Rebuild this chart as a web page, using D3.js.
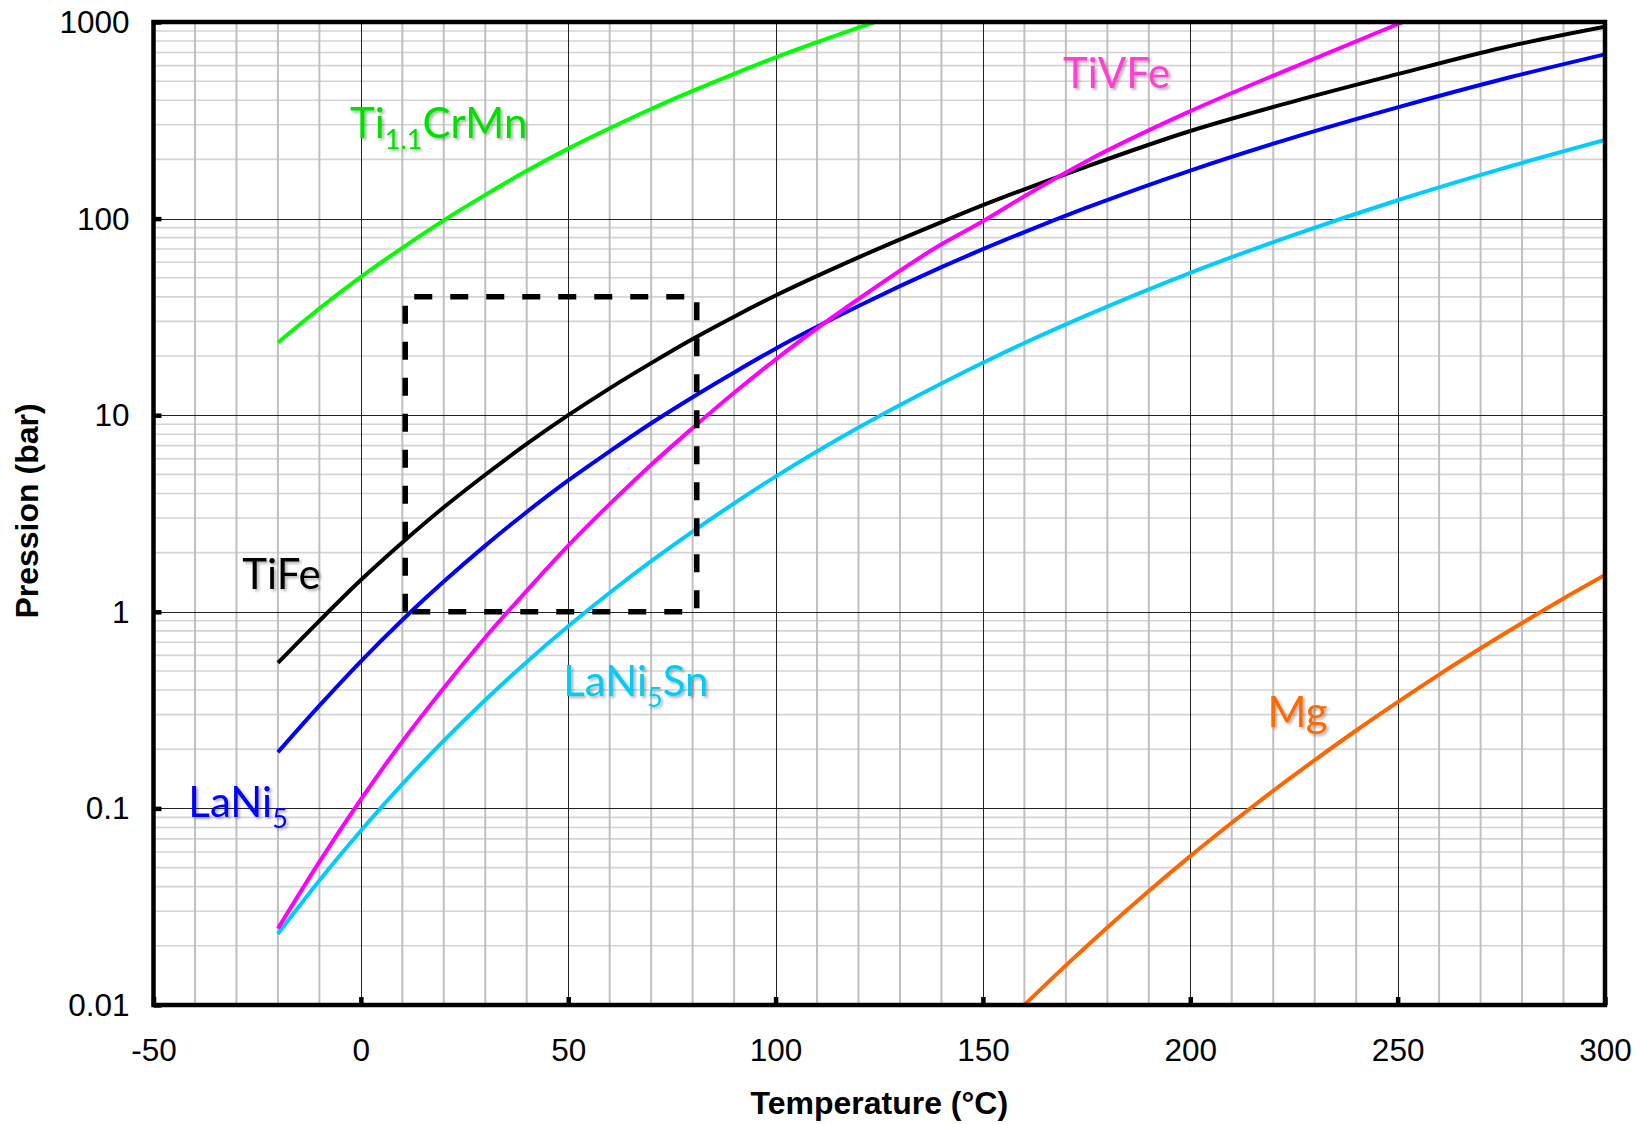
<!DOCTYPE html>
<html><head><meta charset="utf-8">
<script src="https://cdn.jsdelivr.net/npm/d3@7"></script>
<style>
body{margin:0;background:#fff}
svg{display:block}
</style></head><body>
<svg id="c" width="1641" height="1124"></svg>
<script>
// ---------- data ----------
const tempsMain = [-20,-10,0,10,20,30,40,50,60,70,80,90,100,120,140,150,160,175,200,225,250,275,300];
const tiFeP     = [0.55,0.90,1.45,2.25,3.4,4.98,7.14,10,13.7,18.4,24.4,31.7,40.6,63.5,96,117,141,184,279,395,543,738,946];
const laNi5P    = [0.193,0.333,0.56,0.909,1.425,2.17,3.22,4.66,6.55,9.1,12.35,16.5,21.8,35.9,56.6,69.9,85.4,113.6,175.6,259,368,510,685];
const laNi5SnP  = [0.023,0.043,0.077,0.133,0.221,0.356,0.556,0.844,1.25,1.81,2.56,3.56,4.87,8.65,14.5,18.5,23.3,32.2,53,82.7,124,179,251];
const tempsTiVFe = [-20,-10,0,10,20,30,40,50,60,70,80,90,100,120,140,150,160,175,200,225,250,260];
const tiVFeP     = [0.0245,0.0535,0.111,0.219,0.41,0.74,1.28,2.17,3.53,5.6,8.6,13.0,19.2,39,74,97,130,196,352,590,975,1190];
const tempsTiCrMn = [-20,-10,0,10,20,30,40,50,60,70,80,90,100,110,120,125,130];
const tiCrMnP     = [23.4,34.9,50.5,71,98,132,175,227,288,361,446,545,660,789,937,1016,1101];
const tempsMg = [160,170,180,190,200,210,220,230,240,250,260,270,280,290,300];
const mgP     = [0.01,0.0159,0.0248,0.038,0.0572,0.0845,0.123,0.176,0.249,0.347,0.479,0.652,0.877,1.17,1.54];

const boxT = [10.7,10.7,81,81,10.7];
const boxP = [1,40,40,1,1];

const xTicks = [-50,0,50,100,150,200,250,300];
const xTickLabels = ["-50","0","50","100","150","200","250","300"];
const yTicks = [0.01,0.1,1,10,100,1000];
const yTickLabels = ["0.01","0.1","1","10","100","1000"];

const series = [
  {name:"TiFe",      t:tempsMain,   p:tiFeP,     color:"#000000"},
  {name:"LaNi5",     t:tempsMain,   p:laNi5P,    color:"#0000ff"},
  {name:"LaNi5Sn",   t:tempsMain,   p:laNi5SnP,  color:"#00ccff"},
  {name:"TiVFe",     t:tempsTiVFe,  p:tiVFeP,    color:"#ff00ff"},
  {name:"Ti1.1CrMn", t:tempsTiCrMn, p:tiCrMnP,   color:"#00ff00"},
  {name:"Mg",        t:tempsMg,     p:mgP,       color:"#ff6600"}
];

// label anchors in data units (temperature, pressure) with sub/normal parts
const labels = [
  {parts:[["TiFe",0]],                    t:-28.6, p:1.31,  color:"#000000"},
  {parts:[["LaNi",0],["5",1]],            t:-41.6, p:0.090, color:"#0000ff"},
  {parts:[["Ti",0],["1.1",1],["CrMn",0]], t:-2.6,  p:256,   color:"#00e000"},
  {parts:[["TiVFe",0]],                   t:169.3, p:459,   color:"#ff3fd0"},
  {parts:[["LaNi",0],["5",1],["Sn",0]],   t:48.8,  p:0.374, color:"#00ccf5"},
  {parts:[["Mg",0]],                      t:218.6, p:0.258, color:"#ff6a00"}
];

// ---------- chart ----------
const L=153.5, R=1605, T=22, B=1005;
const svg = d3.select("#c");
const x = d3.scaleLinear().domain([-50,300]).range([L,R]);
const y = d3.scaleLog().domain([0.01,1000]).range([B,T]);

const defs = svg.append("defs");
defs.append("clipPath").attr("id","plot").append("rect")
  .attr("x",L).attr("y",T).attr("width",R-L).attr("height",B-T);
const f = defs.append("filter").attr("id","sh").attr("x","-10%").attr("y","-20%").attr("width","130%").attr("height","150%");
f.append("feDropShadow").attr("dx",2).attr("dy",2).attr("stdDeviation",1.6)
  .attr("flood-color","#000").attr("flood-opacity",0.32);

// grid
const g = svg.append("g");
const minorX = d3.range(-40,300,10).filter(v=>v%50!==0);
const majorX = [0,50,100,150,200,250];
const minorY = [];
[0.01,0.1,1,10,100].forEach(d=>{for(let k=2;k<=9;k++) minorY.push(d*k);});
const majorY = [0.1,1,10,100];

g.selectAll(".my").data(minorY).enter().append("line")
  .attr("x1",L).attr("x2",R).attr("y1",d=>y(d)).attr("y2",d=>y(d))
  .attr("stroke","#d4d4d4").attr("stroke-width",1.6);
g.selectAll(".mx").data(minorX).enter().append("line")
  .attr("y1",T).attr("y2",B).attr("x1",d=>x(d)).attr("x2",d=>x(d))
  .attr("stroke","#c0c0c0").attr("stroke-width",2);
g.selectAll(".My").data(majorY).enter().append("line")
  .attr("x1",L).attr("x2",R).attr("y1",d=>Math.round(y(d))+0.5).attr("y2",d=>Math.round(y(d))+0.5)
  .attr("stroke","#222").attr("stroke-width",1);
g.selectAll(".Mx").data(majorX).enter().append("line")
  .attr("y1",T).attr("y2",B).attr("x1",d=>Math.round(x(d))+0.5).attr("x2",d=>Math.round(x(d))+0.5)
  .attr("stroke","#222").attr("stroke-width",1);

// curves
const line = d3.line().x(d=>x(d[0])).y(d=>y(d[1])).curve(d3.curveMonotoneX);
const cg = svg.append("g").attr("clip-path","url(#plot)");
series.forEach(s=>{
  const pts = s.t.map((t,i)=>[t,s.p[i]]);
  cg.append("path").attr("d",line(pts)).attr("fill","none")
    .attr("stroke",s.color).attr("stroke-width",4).attr("stroke-linejoin","round");
});

// dashed box
const boxPts = boxT.map((t,i)=>[t,boxP[i]]);
svg.append("path").attr("d",d3.line().x(d=>x(d[0])).y(d=>y(d[1]))(boxPts))
  .attr("fill","none").attr("stroke","#000").attr("stroke-width",5.5)
  .attr("stroke-dasharray","18 18");

// axes
const yAxis = d3.axisLeft(y).tickValues(yTicks)
  .tickFormat((d,i)=>yTickLabels[i]).tickSizeInner(-8).tickSizeOuter(0).tickPadding(24);
const ya = svg.append("g").attr("transform",`translate(${L},0)`).call(yAxis);
const xAxis = d3.axisBottom(x).tickValues(xTicks)
  .tickFormat((d,i)=>xTickLabels[i]).tickSizeInner(-8).tickSizeOuter(0).tickPadding(34);
const xa = svg.append("g").attr("transform",`translate(0,${B})`).call(xAxis);
[ya,xa].forEach(a=>{
  a.select(".domain").remove();
  a.selectAll(".tick line").attr("stroke","#000").attr("stroke-width",4.5);
  a.selectAll("text").attr("fill","#000").style("font-family","'Liberation Sans', Arial, sans-serif").style("font-size","31.5px");
});
ya.selectAll("text").attr("dy","0.33em");

// frame
svg.append("rect").attr("x",L).attr("y",T).attr("width",R-L).attr("height",B-T)
  .attr("fill","none").attr("stroke","#000").attr("stroke-width",4.5);

// axis titles
svg.append("text").attr("x",(L+R)/2).attr("y",1114)
  .attr("text-anchor","middle").style("font-family","'Liberation Sans', Arial, sans-serif")
  .style("font-size","32px").style("font-weight","bold").text("Temperature (°C)");
svg.append("text").attr("transform","translate(38,511) rotate(-90)")
  .attr("text-anchor","middle").style("font-family","'Liberation Sans', Arial, sans-serif")
  .style("font-size","32px").style("font-weight","bold").text("Pression (bar)");

// curve labels
labels.forEach(l=>{
  const t = svg.append("text").attr("x",x(l.t)).attr("y",y(l.p))
    .attr("fill",l.color).attr("filter","url(#sh)")
    .style("font-family","Lato, 'Open Sans', sans-serif").style("font-size","42px");
  let sub=false;
  l.parts.forEach(([txt,isSub])=>{
    const ts = t.append("tspan").text(txt);
    if(isSub && !sub){ts.attr("dy",11).style("font-size","27px");sub=true;}
    else if(isSub){ts.style("font-size","27px");}
    else if(sub){ts.attr("dy",-11);sub=false;}
  });
});
</script>
</body></html>
